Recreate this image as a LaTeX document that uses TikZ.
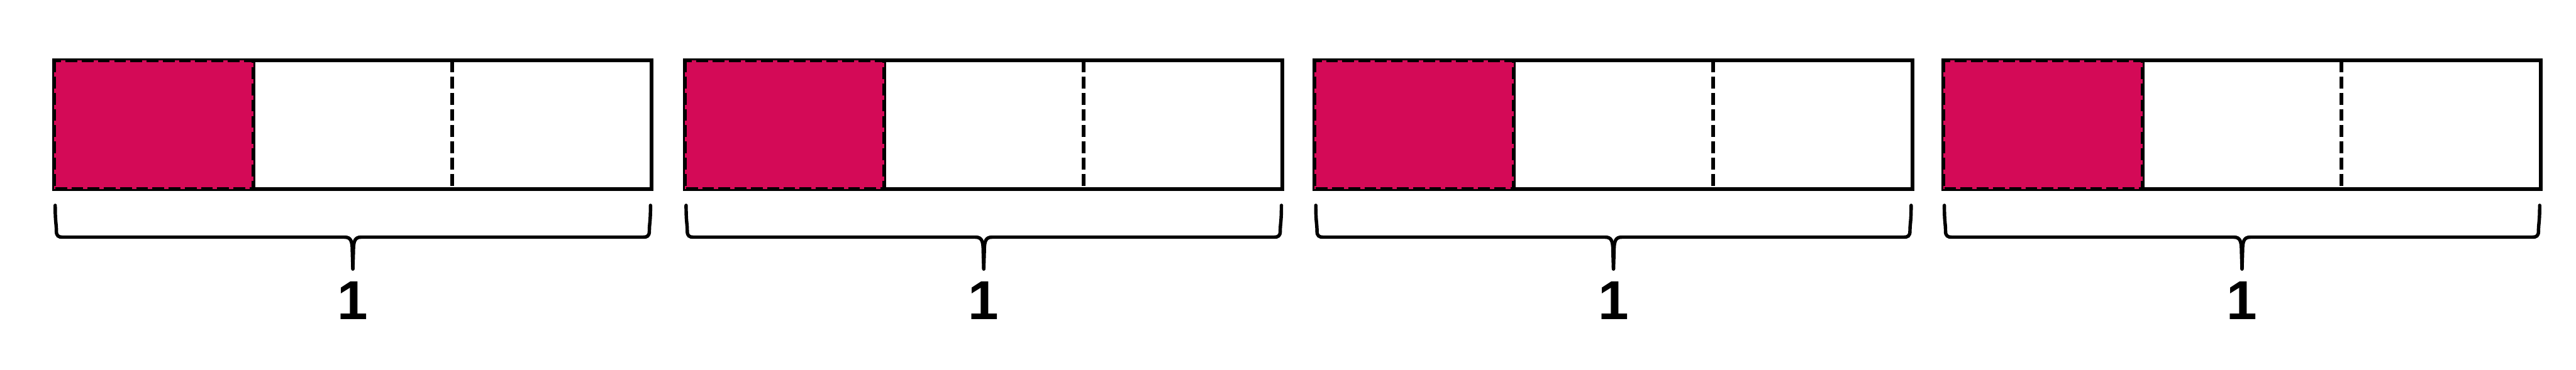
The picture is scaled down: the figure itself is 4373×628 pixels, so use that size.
\documentclass[tikz,border=0pt]{standalone}
\usepackage{fontspec}
\newfontfamily\numfont{Liberation Sans}
\usetikzlibrary{calc, positioning}
\definecolor{cpink}{HTML}{D40A57}
\tikzset{
  every picture/.style={x=0.01cm, y=0.01cm, line width=0.065cm},
  bar/.style={draw, minimum width=10.14cm, minimum height=2.18cm, inner sep=0pt, outer sep=0pt},
  part/.style={draw=black, dash pattern=on 0.2cm off 0.075cm},
  brace/.style={line width=0.058cm, line cap=round},
  num/.style={font=\numfont\bfseries\fontsize{26.5}{30}\selectfont, inner sep=0pt},
}
\begin{document}
\begin{tikzpicture}
  \useasboundingbox (0,0) rectangle (4373,628);
  \foreach \i/\x in {1/599, 2/1670, 3/2739, 4/3806} {
    \node[bar] (bar\i) at (\x, 416) {};
    \coordinate (ta\i) at ($(bar\i.north west)!1/3!(bar\i.north east)$);
    \coordinate (sa\i) at ($(bar\i.south west)!1/3!(bar\i.south east)$);
    \coordinate (tb\i) at ($(bar\i.north west)!2/3!(bar\i.north east)$);
    \coordinate (sb\i) at ($(bar\i.south west)!2/3!(bar\i.south east)$);
    \draw (ta\i) -- (sa\i);
    % shaded third
    \fill[cpink] (bar\i.north west) rectangle (sa\i);
    \draw[part] (bar\i.north west) rectangle (sa\i);
    \draw[part] (tb\i) -- (sb\i);
    % brace under the bar
    \coordinate (bl\i) at ($(bar\i.south west)+(2,-28)$);
    \coordinate (br\i) at ($(bar\i.south east)+(-2,-28)$);
    \coordinate (bm\i) at ($(bar\i.south)+(0,-82)$);
    \coordinate (tip\i) at ($(bar\i.south)+(0,-136)$);
    \draw[brace] (bl\i) .. controls +(0,-30) and +(0,14) .. ($(bl\i)+(2,-44)$) .. controls +(0,-8) and +(-6,0) .. ($(bl\i)+(12,-54)$)
      -- ($(bm\i)+(-14,0)$) .. controls +(10,0) and +(0,16) .. ($(bm\i)+(-1,-22)$) -- (tip\i);
    \draw[brace] (br\i) .. controls +(0,-30) and +(0,14) .. ($(br\i)+(-2,-44)$) .. controls +(0,-8) and +(6,0) .. ($(br\i)+(-12,-54)$)
      -- ($(bm\i)+(14,0)$) .. controls +(-10,0) and +(0,16) .. ($(bm\i)+(1,-22)$) -- (tip\i);
    \node[num, anchor=base] (one\i) at ($(bar\i.south)+(0,-222)$) {1};
  }
\end{tikzpicture}
\end{document}
